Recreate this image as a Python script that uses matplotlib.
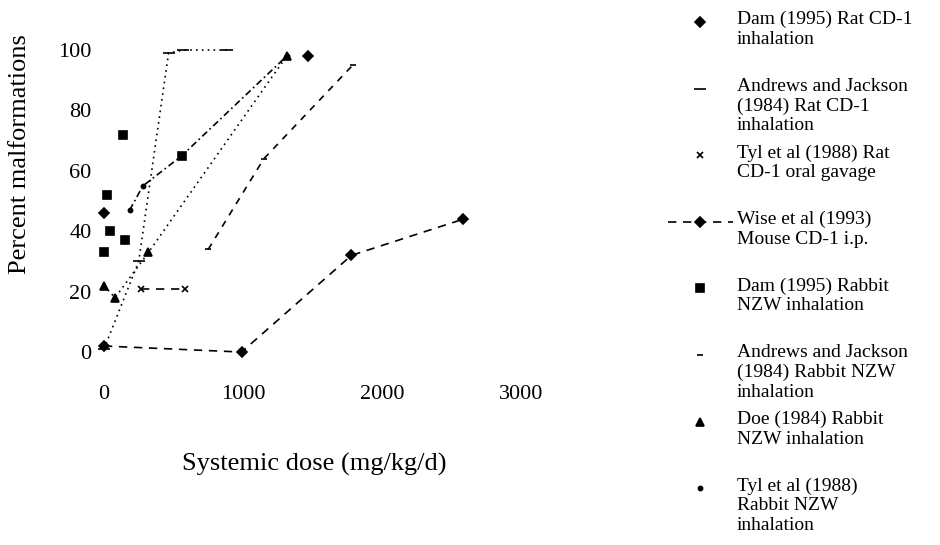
import matplotlib
matplotlib.use("Agg")
import matplotlib.pyplot as plt

plt.rcParams['font.family'] = ['Liberation Serif', 'DejaVu Serif']

# ---- data (dose mg/kg/d, % malformations) ----
dam_rat_x = [0, 1470]
dam_rat_y = [46, 98]

andrews_rat_x = [0, 250, 465, 570, 885]
andrews_rat_y = [1, 30, 99, 100, 100]

tyl_rat_x = [270, 585]
tyl_rat_y = [21, 21]

wise_mouse_x = [0, 990, 1780, 2585]
wise_mouse_y = [2, 0, 32, 44]

dam_rabbit_x = [0, 20, 45, 140, 150, 560]
dam_rabbit_y = [33, 52, 40, 72, 37, 65]

andrews_rabbit_x = [750, 1150, 1790]
andrews_rabbit_y = [34, 64, 95]

doe_rabbit_x = [0, 80, 320, 1315]
doe_rabbit_y = [22, 18, 33, 98]

tyl_rabbit_x = [185, 280, 560, 1315]
tyl_rabbit_y = [47, 55, 65, 98]

x_ticks = [0, 1000, 2000, 3000]
y_ticks = [0, 20, 40, 60, 80, 100]

labels = [
    "Dam (1995) Rat CD-1\ninhalation",
    "Andrews and Jackson\n(1984) Rat CD-1\ninhalation",
    "Tyl et al (1988) Rat\nCD-1 oral gavage",
    "Wise et al (1993)\nMouse CD-1 i.p.",
    "Dam (1995) Rabbit\nNZW inhalation",
    "Andrews and Jackson\n(1984) Rabbit NZW\ninhalation",
    "Doe (1984) Rabbit\nNZW inhalation",
    "Tyl et al (1988)\nRabbit NZW\ninhalation",
]

# style per series: marker, markersize, linestyle
styles = [
    dict(marker='D', ms=5, ls='none'),
    dict(marker='_', ms=8, ls=(0, (1, 2.5))),
    dict(marker='x', ms=5, ls=(0, (5, 4))),
    dict(marker='D', ms=5, ls=(0, (5, 4))),
    dict(marker='s', ms=6, ls='none'),
    dict(marker='_', ms=5, ls=(0, (4, 4))),
    dict(marker='^', ms=6, ls=(0, (1, 2.5))),
    dict(marker='.', ms=6, ls=(0, (4, 2, 1, 2))),
]
series = [
    (dam_rat_x, dam_rat_y),
    (andrews_rat_x, andrews_rat_y),
    (tyl_rat_x, tyl_rat_y),
    (wise_mouse_x, wise_mouse_y),
    (dam_rabbit_x, dam_rabbit_y),
    (andrews_rabbit_x, andrews_rabbit_y),
    (doe_rabbit_x, doe_rabbit_y),
    (tyl_rabbit_x, tyl_rabbit_y),
]

fig = plt.figure(figsize=(9.4, 5.45), dpi=100)
ax = fig.add_axes([0.1032, 0.3097, 0.4658, 0.6262])

for (xs, ys), st in zip(series, styles):
    ax.plot(xs, ys, color='black', lw=1.2, linestyle=st['ls'],
            marker=st['marker'], markersize=st['ms'], mew=1.2)

ax.set_xlim(-50, 3100)
ax.set_ylim(-8, 105)
ax.set_xticks(x_ticks)
ax.set_yticks(y_ticks)
ax.tick_params(length=0, labelsize=16)
ax.tick_params(axis='x', pad=6)
ax.tick_params(axis='y', pad=4)
for s in ax.spines.values():
    s.set_visible(False)

ax.set_xlabel("Systemic dose (mg/kg/d)", fontsize=19)
ax.xaxis.set_label_coords(0.496, -0.225)
ax.set_ylabel("Percent malformations", fontsize=19)
ax.yaxis.set_label_coords(-0.15, 0.65)

# ---- legend, drawn by hand so the marker sits on the first text line ----
lax = fig.add_axes([0, 0, 1, 1])
lax.set_xlim(0, 940)
lax.set_ylim(545, 0)
lax.axis('off')
y0, step = 22, 66.6
for i, (lab, st) in enumerate(zip(labels, styles)):
    yy = y0 + i * step
    if i == 3:
        lax.plot([668, 733], [yy, yy], color='black', lw=1.2, linestyle=st['ls'])
    lax.plot([700], [yy], color='black', ls='none', marker=st['marker'],
             markersize=st['ms'], mew=1.2)
    lax.text(737, yy - 11, lab, fontsize=14, va='top', ha='left', linespacing=1.2)

fig.savefig("out.png", dpi=100)
